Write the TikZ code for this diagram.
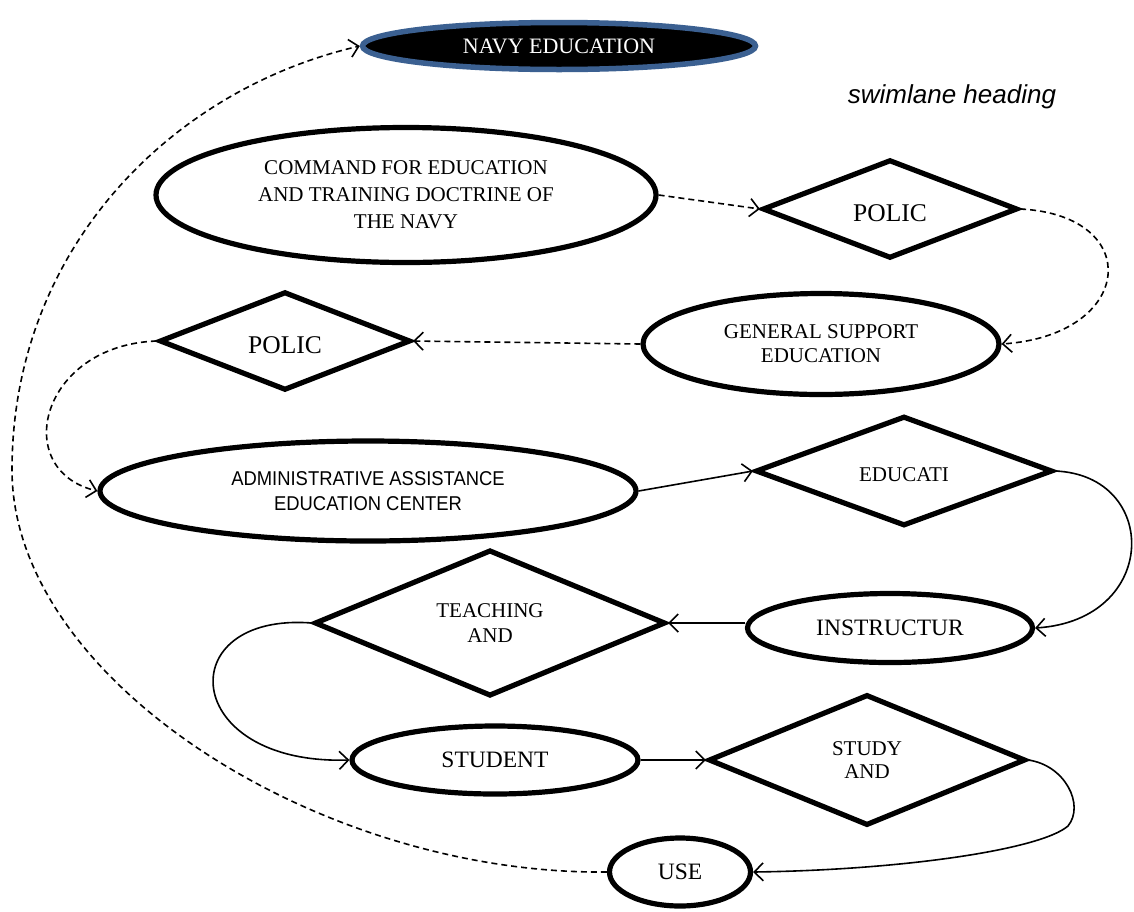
\documentclass[tikz,border=0pt]{standalone}
\usepackage{fontspec}
\setmainfont{Liberation Serif}
\setsansfont{Liberation Sans}
\newfontfamily\narrowsans[FakeStretch=0.92]{Liberation Sans}
\usetikzlibrary{shapes.geometric,arrows.meta}
\definecolor{navyborder}{RGB}{59,96,145}
\begin{document}
\begin{tikzpicture}[x=1pt,y=-1pt,
  ell/.style={ellipse, draw, line width=5.2pt, inner sep=0pt, align=center,
    font=\fontsize{21}{24}\selectfont},
  dia/.style={diamond, draw, line width=5.2pt, inner sep=0pt, align=center,
    font=\fontsize{21}{24}\selectfont},
  conn/.style={line width=1.6pt, -{Straight Barb[length=9pt,width=18pt]}},
  dconn/.style={conn, dash pattern=on 6pt off 4pt},
  txt/.style={inner sep=0pt, align=center}]
\useasboundingbox (0,0) rectangle (1134,911);

% nodes
\node[ell, fill=black, draw=navyborder, line width=5.5pt, text=white, minimum width=393pt, minimum height=47pt, font=\fontsize{22}{24}\selectfont] (navy) at (559,46) {NAVY EDUCATION};
\node[txt, font=\sffamily\itshape\fontsize{26}{30}\selectfont, anchor=base] (heading) at (952,103) {swimlane heading};

\node[ell, minimum width=500pt, minimum height=135pt, font=\fontsize{21}{27}\selectfont] (cmd) at (406,195) {COMMAND FOR EDUCATION\\AND TRAINING DOCTRINE OF\\THE NAVY};

\node[dia, minimum width=255pt, minimum height=92pt, font=\fontsize{25.5}{28}\selectfont, text height=25pt, text depth=0pt] (pol1) at (890,209) {POLIC};
\node[ell, minimum width=356pt, minimum height=101pt] (gen) at (821,344) {GENERAL SUPPORT\\EDUCATION};
\node[dia, minimum width=251pt, minimum height=91pt, font=\fontsize{25.5}{28}\selectfont, text height=25pt, text depth=0pt] (pol2) at (285,341) {POLIC};

\node[ell, minimum width=536pt, minimum height=100pt, font=\narrowsans\fontsize{20}{25}\selectfont] (admin) at (368,491) {ADMINISTRATIVE ASSISTANCE\\EDUCATION CENTER};
\node[dia, minimum width=297pt, minimum height=89pt, text height=20pt, text depth=0pt] (educ) at (904,471) {EDUCATI};

\node[ell, minimum width=285pt, minimum height=69pt, font=\fontsize{23.5}{26}\selectfont] (instr) at (890,628) {INSTRUCTUR};
\node[dia, minimum width=351pt, minimum height=136pt, font=\fontsize{21}{25}\selectfont] (teach) at (490,623) {TEACHING\\AND};

\node[ell, minimum width=286pt, minimum height=68pt, font=\fontsize{23.5}{26}\selectfont] (stud) at (495,760) {STUDENT};
\node[dia, minimum width=317pt, minimum height=131pt, font=\fontsize{21}{23}\selectfont] (study) at (867,760) {STUDY\\AND};

\node[ell, minimum width=141pt, minimum height=68pt, font=\fontsize{23.5}{26}\selectfont] (use) at (680,872) {USE};

\coordinate (bend) at (1068,826);
\coordinate (bigL) at (12,470);

% connectors
\draw[dconn] (cmd.east) -- (pol1.west);
\draw[dconn] (pol1.east) .. controls (1145,215) and (1135,335) .. (gen.east);
\draw[dconn] (gen.west) -- (pol2.east);
\draw[dconn] (pol2.west) .. controls (40,345) and (10,470) .. (admin.west);
\draw[conn] (admin.east) -- (educ.west);
\draw[conn] (educ.east) .. controls (1160,475) and (1160,620) .. (instr.east);
\draw[conn] ([yshift=5pt]instr.west) -- (teach.east);
\draw[conn] (teach.west) .. controls (170,612) and (180,765) .. (stud.west);
\draw[conn] (stud.east) -- (study.west);
\draw[conn] (study.east) .. controls (1065,765) and (1085,805) .. (bend) .. controls (1040,850) and (900,870) .. (use.east);
\draw[dconn] (use.west) .. controls (320,875) and (12,680) .. (bigL) .. controls (12,250) and (170,90) .. (navy.west);
\end{tikzpicture}
\end{document}
